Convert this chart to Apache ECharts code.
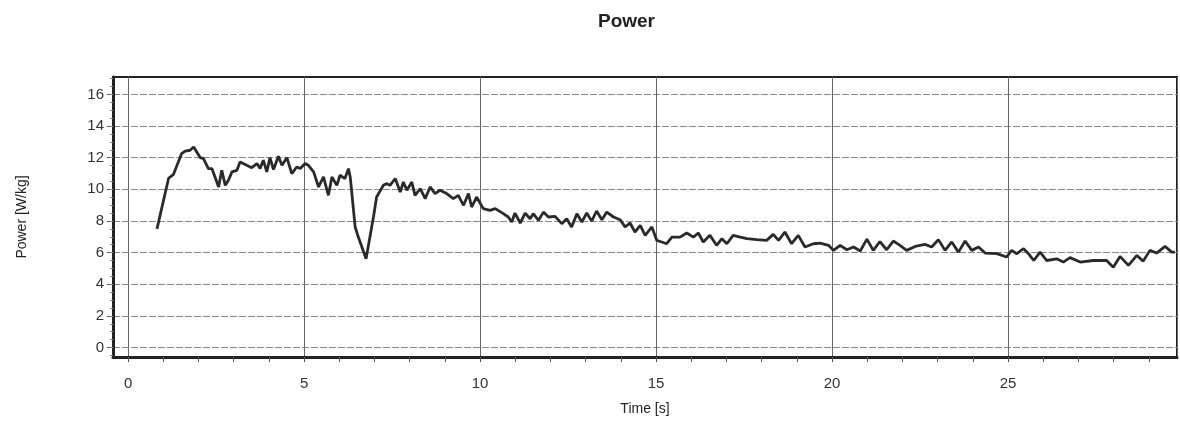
<!DOCTYPE html>
<html>
<head>
<meta charset="utf-8">
<script src="https://cdn.jsdelivr.net/npm/echarts@6/dist/echarts.min.js"></script>
<style>
  html, body { margin: 0; padding: 0; background: #fff; }
  #main { width: 1180px; height: 421px; }
</style>
</head>
<body>
<div id="main"></div>
<script>
// values (time in s, power in W/kg)
let timeS = [
  0.82, 1.15, 1.29, 1.52, 1.62, 1.76, 1.86, 1.95, 2.05, 2.14, 2.28, 2.38, 2.57, 2.66, 2.76, 2.85, 2.95,
  3.09, 3.18, 3.37, 3.51, 3.66, 3.75, 3.84, 3.94, 4.03, 4.13, 4.27, 4.37, 4.51, 4.65, 4.79, 4.89,
  5.03, 5.12, 5.27, 5.41, 5.55, 5.69, 5.79, 5.93, 6.02, 6.16, 6.26, 6.31, 6.45, 6.54, 6.76, 6.97,
  7.06, 7.25, 7.35, 7.44, 7.59, 7.73, 7.82, 7.92, 8.06, 8.15, 8.30, 8.44, 8.58, 8.72, 8.86, 9.05,
  9.24, 9.38, 9.53, 9.67, 9.76, 9.90, 10.09, 10.28, 10.43, 10.66, 10.80, 10.90, 10.99, 11.14, 11.28,
  11.42, 11.51, 11.66, 11.80, 11.94, 12.13, 12.32, 12.46, 12.60, 12.75, 12.89, 13.03, 13.17, 13.31,
  13.46, 13.60, 13.79, 13.98, 14.12, 14.26, 14.40, 14.55, 14.69, 14.88, 15.02, 15.16, 15.30, 15.45,
  15.68, 15.87, 16.06, 16.20, 16.34, 16.53, 16.72, 16.87, 17.01, 17.19, 17.39, 17.58, 17.86, 18.14,
  18.33, 18.48, 18.66, 18.85, 19.04, 19.23, 19.47, 19.66, 19.90, 20.04, 20.23, 20.42, 20.61, 20.80,
  20.99, 21.17, 21.36, 21.55, 21.74, 21.93, 22.12, 22.36, 22.64, 22.83, 23.02, 23.21, 23.40, 23.59,
  23.78, 23.97, 24.16, 24.35, 24.68, 24.96, 25.10, 25.25, 25.44, 25.58, 25.73, 25.91, 26.10, 26.38,
  26.57, 26.76, 27.05, 27.42, 27.80, 27.99, 28.18, 28.42, 28.66, 28.84, 29.03, 29.22, 29.46, 29.65, 29.74
];
let powerWkg = [
  7.5, 10.7, 10.95, 12.26, 12.42, 12.47, 12.68, 12.36, 12.0, 11.94, 11.31, 11.31, 10.15, 11.2, 10.25, 10.57, 11.1,
  11.2, 11.73, 11.52, 11.37, 11.63, 11.31, 11.84, 11.1, 12.0, 11.25, 12.09, 11.52, 12.0, 10.99, 11.41, 11.31,
  11.63, 11.52, 11.1, 10.15, 10.78, 9.62, 10.78, 10.25, 10.89, 10.68, 11.31, 10.78, 7.62, 6.98, 5.61, 8.25,
  9.51, 10.25, 10.36, 10.25, 10.68, 9.83, 10.46, 9.94, 10.46, 9.62, 10.04, 9.41, 10.15, 9.73, 9.94, 9.73,
  9.41, 9.62, 8.99, 9.73, 8.88, 9.51, 8.78, 8.67, 8.78, 8.46, 8.25, 7.93, 8.5, 7.87, 8.5,
  8.14, 8.46, 8.04, 8.56, 8.25, 8.29, 7.83, 8.14, 7.62, 8.46, 7.93, 8.5, 7.99, 8.63,
  8.08, 8.56, 8.25, 8.08, 7.62, 7.87, 7.3, 7.72, 7.09, 7.62, 6.77, 6.67, 6.56, 6.98,
  6.98, 7.24, 6.98, 7.24, 6.67, 7.09, 6.46, 6.88, 6.56, 7.09, 6.98, 6.88, 6.82, 6.77,
  7.15, 6.77, 7.3, 6.56, 7.09, 6.35, 6.56, 6.6, 6.46, 6.14, 6.46, 6.18, 6.35, 6.1,
  6.85, 6.14, 6.7, 6.18, 6.73, 6.46, 6.14, 6.39, 6.52, 6.35, 6.82, 6.14, 6.67, 6.03,
  6.73, 6.14, 6.35, 5.97, 5.93, 5.72, 6.14, 5.93, 6.25, 5.93, 5.5, 6.03, 5.5, 5.61,
  5.4, 5.68, 5.4, 5.5, 5.5, 5.08, 5.76, 5.19, 5.82, 5.46, 6.14, 5.97, 6.39, 6.03, 6.03
];
let xTickLabels = [0, 5, 10, 15, 20, 25];
let yTickLabels = [0, 2, 4, 6, 8, 10, 12, 14, 16];

let xMin = -0.43, xMax = 29.8;
let yMin = -0.6, yMax = 17.1;

// minor tick positions (1 s on x, 0.5 W/kg on y)
let xMinorTicks = [];
for (let t = 0; t <= 29; t++) xMinorTicks.push(t);
let yMinorTicks = [];
for (let v = -0.5; v <= 17; v += 0.5) yMinorTicks.push(v);

let seriesData = timeS.map((t, i) => [t, powerWkg[i]]);

let chart = echarts.init(document.getElementById('main'));
let font = 'Liberation Sans, Arial, sans-serif';

let option = {
  animation: false,
  backgroundColor: '#fff',
  title: {
    text: 'Power',
    left: 593,
    top: 7,
    textStyle: { fontFamily: font, fontSize: 19, fontWeight: 'bold', color: '#222' }
  },
  grid: {
    left: 113, right: 3, top: 77, bottom: 64,
    show: true, borderColor: '#222', borderWidth: 2
  },
  xAxis: [
    {
      type: 'value', min: xMin, max: xMax, minInterval: 5, maxInterval: 5,
      name: 'Time [s]', nameLocation: 'middle', nameGap: 45,
      nameTextStyle: { fontFamily: font, fontSize: 14, color: '#222' },
      axisLine: { show: true, onZero: false, lineStyle: { color: '#222', width: 3 } },
      axisTick: { show: false },
      axisLabel: { customValues: xTickLabels, margin: 19, fontFamily: font, fontSize: 15, color: '#333' },
      splitLine: { show: true, lineStyle: { color: '#666', width: 1 } }
    },
    {
      type: 'value', min: xMin, max: xMax, position: 'bottom',
      axisLine: { show: false, onZero: false },
      axisTick: { show: true, inside: false, customValues: xMinorTicks, length: 5, lineStyle: { color: '#555' } },
      axisLabel: { show: false },
      splitLine: { show: false }
    }
  ],
  yAxis: [
    {
      type: 'value', min: yMin, max: yMax, minInterval: 2, maxInterval: 2,
      name: 'Power [W/kg]', nameLocation: 'middle', nameGap: 84, nameRotate: 90,
      nameTextStyle: { fontFamily: font, fontSize: 14, color: '#222' },
      axisLine: { show: true, onZero: false, lineStyle: { color: '#222', width: 3 } },
      axisTick: { show: true, customValues: yTickLabels, length: 6, lineStyle: { color: '#555' } },
      axisLabel: { customValues: yTickLabels, margin: 9, fontFamily: font, fontSize: 15, color: '#333' },
      splitLine: { show: true, lineStyle: { color: '#8a8a8a', width: 1.2, type: [7, 2] } }
    },
    {
      type: 'value', min: yMin, max: yMax, position: 'left',
      axisLine: { show: false, onZero: false },
      axisTick: { show: true, customValues: yMinorTicks, length: 3, lineStyle: { color: '#888' } },
      axisLabel: { show: false },
      splitLine: { show: false }
    }
  ],
  series: [
    {
      type: 'line',
      xAxisIndex: 0,
      yAxisIndex: 0,
      data: seriesData,
      showSymbol: false,
      lineStyle: { color: '#2a2a2a', width: 2.8 },
      z: 5
    }
  ]
};

chart.setOption(option);
</script>
</body>
</html>
